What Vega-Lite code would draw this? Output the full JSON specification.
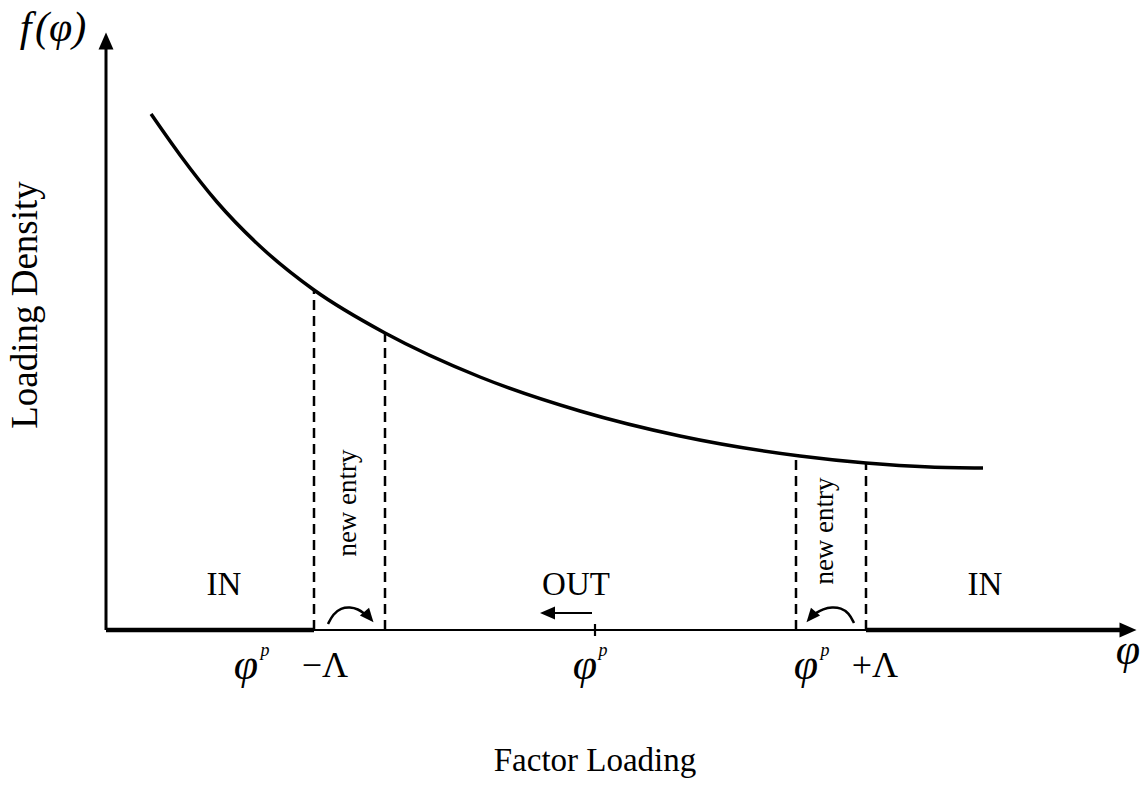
{
  "$schema": "https://vega.github.io/schema/vega-lite/v6.json",
  "width": 1148,
  "height": 798,
  "autosize": {"type": "fit", "contains": "padding"},
  "padding": 0,
  "background": "white",
  "config": {"view": {"stroke": null}},
  "datasets": {
    "curve": [
      {"loading": -444, "density": 516},
      {"loading": -415, "density": 475},
      {"loading": -378, "density": 428},
      {"loading": -332, "density": 381},
      {"loading": -281, "density": 340},
      {"loading": -210, "density": 297},
      {"loading": -115, "density": 253},
      {"loading": -15, "density": 219},
      {"loading": 85, "density": 194},
      {"loading": 205, "density": 174},
      {"loading": 271, "density": 167},
      {"loading": 335, "density": 163},
      {"loading": 388, "density": 162}
    ],
    "yaxis": [{"loading": -489, "density": 0, "loading_end": -489, "density_end": 582}],
    "thickAxis": [
      {"loading": -489, "density": 0, "loading_end": -281, "density_end": 0},
      {"loading": 271, "density": 0, "loading_end": 528, "density_end": 0}
    ],
    "thinAxis": [
      {"loading": -281, "density": 0, "loading_end": 271, "density_end": 0},
      {"loading": 0, "density": -6, "loading_end": 0, "density_end": 6},
      {"loading": -40, "density": 17, "loading_end": -3, "density_end": 17}
    ],
    "dashed": [
      {"loading": -281, "density": 0, "loading_end": -281, "density_end": 340},
      {"loading": -210, "density": 0, "loading_end": -210, "density_end": 297},
      {"loading": 201, "density": 0, "loading_end": 201, "density_end": 174},
      {"loading": 271, "density": 0, "loading_end": 271, "density_end": 167}
    ],
    "arcs": [
      {"arc": "left", "order": 1, "loading": -267, "density": 6},
      {"arc": "left", "order": 2, "loading": -262, "density": 16},
      {"arc": "left", "order": 3, "loading": -254, "density": 22},
      {"arc": "left", "order": 4, "loading": -245, "density": 23},
      {"arc": "left", "order": 5, "loading": -237, "density": 21},
      {"arc": "left", "order": 6, "loading": -230, "density": 16},
      {"arc": "right", "order": 1, "loading": 259, "density": 7},
      {"arc": "right", "order": 2, "loading": 254, "density": 17},
      {"arc": "right", "order": 3, "loading": 246, "density": 22},
      {"arc": "right", "order": 4, "loading": 237, "density": 23},
      {"arc": "right", "order": 5, "loading": 228, "density": 21},
      {"arc": "right", "order": 6, "loading": 221, "density": 17}
    ],
    "headUp": [{"loading": -489, "density": 589}],
    "headRight": [{"loading": 533, "density": 0}],
    "headLeft": [{"loading": -47.5, "density": 17}],
    "headCurveL": [{"loading": -226, "density": 13}],
    "headCurveR": [{"loading": 216, "density": 13}],
    "labels": [
      {"loading": -371, "density": 45, "label": "IN"},
      {"loading": -19, "density": 45, "label": "OUT"},
      {"loading": 390, "density": 45, "label": "IN"},
      {"loading": 0, "density": -131, "label": "Factor Loading"}
    ],
    "rotated": [
      {"loading": -569, "density": 325, "label": "Loading Density"}
    ],
    "entries": [
      {"loading": -247, "density": 127, "label": "new entry"},
      {"loading": 230, "density": 99, "label": "new entry"}
    ],
    "fphi": [{"loading": -542, "density": 602, "label": "f\u200a(φ)"}],
    "phis": [
      {"loading": -349, "density": -36, "label": "φ"},
      {"loading": -10, "density": -36, "label": "φ"},
      {"loading": 211, "density": -36, "label": "φ"},
      {"loading": 533, "density": -21, "label": "φ"}
    ],
    "sups": [
      {"loading": -330, "density": -21, "label": "p"},
      {"loading": 8, "density": -21, "label": "p"},
      {"loading": 230, "density": -21, "label": "p"}
    ],
    "ops": [
      {"loading": -270, "density": -36, "label": "−Λ"},
      {"loading": 280, "density": -36, "label": "+Λ"}
    ]
  },
  "encoding": {
    "x": {"field": "loading", "type": "quantitative", "axis": null, "scale": {"domain": [-595, 553], "nice": false, "zero": false}},
    "y": {"field": "density", "type": "quantitative", "axis": null, "scale": {"domain": [-168, 630], "nice": false, "zero": false}}
  },
  "layer": [
    {"data": {"name": "curve"}, "mark": {"type": "line", "color": "black", "strokeWidth": 3.5, "interpolate": "monotone"}, "encoding": {}},
    {"data": {"name": "yaxis"}, "mark": {"type": "rule", "color": "black", "strokeWidth": 3}, "encoding": {"x2": {"field": "loading_end"}, "y2": {"field": "density_end"}}},
    {"data": {"name": "thickAxis"}, "mark": {"type": "rule", "color": "black", "strokeWidth": 4.5}, "encoding": {"x2": {"field": "loading_end"}, "y2": {"field": "density_end"}}},
    {"data": {"name": "thinAxis"}, "mark": {"type": "rule", "color": "black", "strokeWidth": 2.2}, "encoding": {"x2": {"field": "loading_end"}, "y2": {"field": "density_end"}}},
    {"data": {"name": "dashed"}, "mark": {"type": "rule", "color": "black", "strokeWidth": 2.5, "strokeDash": [10, 6]}, "encoding": {"x2": {"field": "loading_end"}, "y2": {"field": "density_end"}}},
    {"data": {"name": "arcs"}, "mark": {"type": "line", "color": "black", "strokeWidth": 2.5, "interpolate": "basis"}, "encoding": {"detail": {"field": "arc"}, "order": {"field": "order"}}},
    {"data": {"name": "headUp"}, "mark": {"type": "point", "filled": true, "opacity": 1, "color": "black", "shape": "M0,-1L-0.88,1L0.88,1Z", "size": 289}},
    {"data": {"name": "headRight"}, "mark": {"type": "point", "filled": true, "opacity": 1, "color": "black", "shape": "M1,0L-1,-0.88L-1,0.88Z", "size": 289}},
    {"data": {"name": "headLeft"}, "mark": {"type": "point", "filled": true, "opacity": 1, "color": "black", "shape": "M-1,0L1,-0.87L1,0.87Z", "size": 225}},
    {"data": {"name": "headCurveL"}, "mark": {"type": "point", "filled": true, "opacity": 1, "color": "black", "shape": "M1,0L-1,-0.85L-1,0.85Z", "size": 196, "angle": 50}},
    {"data": {"name": "headCurveR"}, "mark": {"type": "point", "filled": true, "opacity": 1, "color": "black", "shape": "M1,0L-1,-0.85L-1,0.85Z", "size": 196, "angle": 130}},
    {"data": {"name": "labels"}, "mark": {"type": "text", "font": "Liberation Serif", "fontSize": 33, "color": "black", "baseline": "middle", "align": "center"}, "encoding": {"text": {"field": "label"}}},
    {"data": {"name": "rotated"}, "mark": {"type": "text", "font": "Liberation Serif", "fontSize": 37, "color": "black", "baseline": "middle", "align": "center", "angle": 270}, "encoding": {"text": {"field": "label"}}},
    {"data": {"name": "entries"}, "mark": {"type": "text", "font": "Liberation Serif", "fontSize": 27, "color": "black", "baseline": "middle", "align": "center", "angle": 270}, "encoding": {"text": {"field": "label"}}},
    {"data": {"name": "fphi"}, "mark": {"type": "text", "font": "Liberation Serif", "fontStyle": "italic", "fontSize": 42, "color": "black", "baseline": "middle", "align": "center"}, "encoding": {"text": {"field": "label"}}},
    {"data": {"name": "phis"}, "mark": {"type": "text", "font": "Liberation Serif", "fontStyle": "italic", "fontSize": 44, "color": "black", "baseline": "middle", "align": "center"}, "encoding": {"text": {"field": "label"}}},
    {"data": {"name": "sups"}, "mark": {"type": "text", "font": "Liberation Serif", "fontStyle": "italic", "fontSize": 18, "color": "black", "baseline": "middle", "align": "center"}, "encoding": {"text": {"field": "label"}}},
    {"data": {"name": "ops"}, "mark": {"type": "text", "font": "Liberation Serif", "fontSize": 36, "color": "black", "baseline": "middle", "align": "center"}, "encoding": {"text": {"field": "label"}}}
  ]
}
